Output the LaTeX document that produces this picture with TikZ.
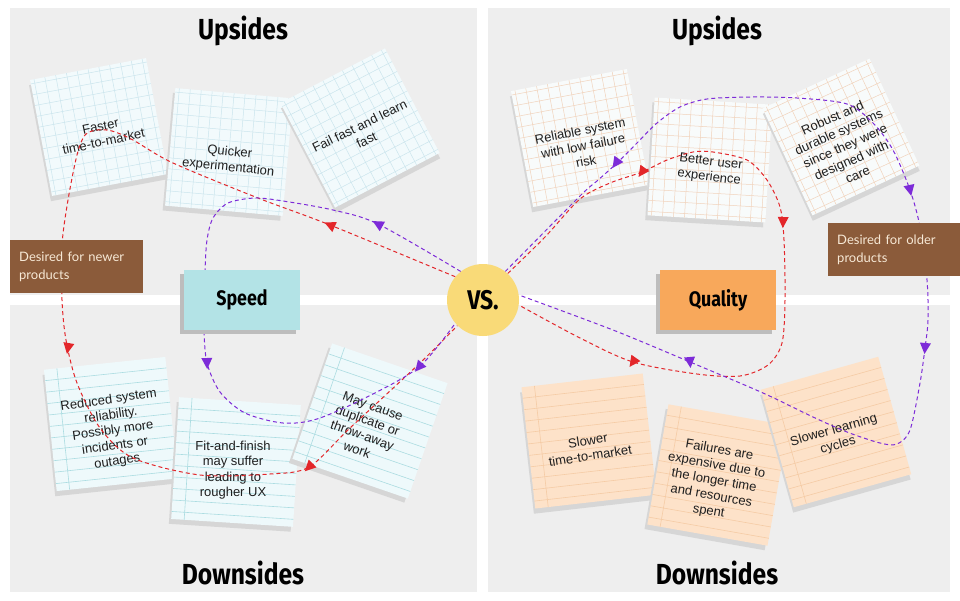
\documentclass[tikz,border=0pt]{standalone}
\usepackage{fontspec}
\setmainfont{Liberation Sans}
\newfontfamily\titlefont[FakeStretch=0.85]{Fira Sans}
\newfontfamily\handfont{Lato}
\usetikzlibrary{calc}

\definecolor{quad}{HTML}{EEEEEE}
\definecolor{nshadow}{HTML}{D6D6D6}
\definecolor{gbluebg}{HTML}{F2FAFC}
\definecolor{gblueln}{HTML}{CBE5ED}
\definecolor{gorgbg}{HTML}{F8FBFB}
\definecolor{gorgln}{HTML}{F1D3BC}
\definecolor{lbluebg}{HTML}{EEF9FB}
\definecolor{lblueln}{HTML}{ABDCE1}
\definecolor{lorgbg}{HTML}{FDE2C9}
\definecolor{lorgln}{HTML}{F5CBA5}
\definecolor{speedc}{HTML}{B3E3E6}
\definecolor{qualc}{HTML}{F8A85B}
\definecolor{vsc}{HTML}{F9DA78}
\definecolor{boxsh}{HTML}{BDBDBD}
\definecolor{brownc}{HTML}{8B5B3A}
\definecolor{browntx}{HTML}{F7E9D6}
\definecolor{redl}{HTML}{E3262A}
\definecolor{purl}{HTML}{7D2BD8}

\pgfdeclarelayer{bg}
\pgfdeclarelayer{notes}
\pgfdeclarelayer{conn}
\pgfdeclarelayer{shad}
\pgfdeclarelayer{front}
\pgfsetlayers{bg,notes,conn,shad,main,front}

\newcommand{\GridNote}[5]{%
  \begin{scope}[shift={(#1,#2)},rotate=#3]
    \fill[nshadow] (-61,-54) rectangle (57,64);
    \fill[#4] (-59,-59) rectangle (59,59);
    \foreach \k in {-55,-44,...,55}{%
      \draw[#5,line width=0.5pt] (\k,-59) -- (\k,59);
      \draw[#5,line width=0.5pt] (-59,\k) -- (59,\k);}
  \end{scope}}

\newcommand{\LineNote}[5]{%
  \begin{scope}[shift={(#1,#2)},rotate=#3]
    \fill[nshadow] (-63,-56) rectangle (59,66);
    \fill[#4] (-61,-61) rectangle (61,61);
    \foreach \k in {0,...,9}{\draw[#5,line width=0.6pt] (-61,{-50+\k*11.5}) -- (61,{-50+\k*11.5});}
    \draw[#5,line width=0.6pt] (-48,-61) -- (-48,61);
  \end{scope}}

\newcommand{\Tip}[4]{%
  \begin{scope}[shift={(#2,#3)},rotate=#4]
    \fill[#1] (6,0) -- (-5,5.5) -- (-5,-5.5) -- cycle;
  \end{scope}}

\tikzset{
  title/.style={font=\titlefont\bfseries\fontsize{29}{30}\selectfont},
  notetext/.style={align=center,font=\fontsize{13}{15.5}\selectfont,inner sep=0pt,text=black!88},
  conn/.style={dash pattern=on 4pt off 3pt,line width=1pt},
  bigbox/.style={minimum width=116,minimum height=60,inner sep=0pt,font=\titlefont\bfseries\fontsize{21}{22}\selectfont},
  brownbox/.style={fill=brownc,text=browntx,minimum height=53,anchor=north west,align=left,inner xsep=9,inner ysep=0,font=\handfont\fontsize{13}{18}\selectfont}
}

\begin{document}
\begin{tikzpicture}[x=1pt,y=-1pt]
\useasboundingbox (0,0) rectangle (960,600);

% main-layer nodes
\node[circle,fill=vsc,minimum size=72,inner sep=0pt,font=\titlefont\bfseries\fontsize{27}{27}\selectfont] (vs) at (483,300) {VS.};
\node[bigbox,fill=speedc] (speed) at (242,300) {Speed};
\node[bigbox,fill=qualc] (quality) at (718,300) {Quality};
\node[brownbox,text width=115] (newer) at (10,240) {Desired for newer\\products};
\node[brownbox,text width=114] (older) at (828,223) {Desired for older\\products};

\begin{pgfonlayer}{shad}
  \fill[boxsh] ($(speed.south west)+(-4,4)$) rectangle ($(speed.north east)+(-4,4)$);
  \fill[boxsh] ($(quality.south west)+(-4,4)$) rectangle ($(quality.north east)+(-4,4)$);
\end{pgfonlayer}

\begin{pgfonlayer}{bg}
  \fill[white] (0,0) rectangle (960,600);
  \fill[quad] (10,8) rectangle (477,295);
  \fill[quad] (488,8) rectangle (950,295);
  \fill[quad] (10,305) rectangle (477,592);
  \fill[quad] (488,305) rectangle (950,592);
  \node[title] (up1) at (243,31) {Upsides};
  \node[title] (up2) at (717,31) {Upsides};
  \node[title] (dn1) at (243,573) {Downsides};
  \node[title] (dn2) at (717,573) {Downsides};
\end{pgfonlayer}

\begin{pgfonlayer}{notes}
  \GridNote{99}{127}{10.7}{gbluebg}{gblueln}
  \GridNote{229}{152}{-5}{gbluebg}{gblueln}
  \GridNote{360}{128}{27.6}{gbluebg}{gblueln}
  \GridNote{580}{138}{10.8}{gorgbg}{gorgln}
  \GridNote{710}{160}{-3.5}{gorgbg}{gorgln}
  \GridNote{841}{137}{25}{gorgbg}{gorgln}
  \LineNote{111}{424}{6}{lbluebg}{lblueln}
  \LineNote{236}{462}{-3.7}{lbluebg}{lblueln}
  \LineNote{370}{421}{-19}{lbluebg}{lblueln}
  \LineNote{589}{441}{6.5}{lorgbg}{lorgln}
  \LineNote{718}{475}{-10}{lorgbg}{lorgln}
  \LineNote{836}{432}{15.7}{lorgbg}{lorgln}
  \node[notetext,rotate=12] (t1) at (102,134) {Faster\\time-to-market};
  \node[notetext,rotate=-6] (t2) at (229,160) {Quicker\\experimentation};
  \node[notetext,rotate=26] (t3) at (363,133) {Fail fast and learn\\fast};
  \node[notetext,rotate=11] (t4) at (583,146) {Reliable system\\with low failure\\risk};
  \node[notetext,rotate=-7] (t5) at (710,170) {Better user\\experience};
  \node[notetext,rotate=24] (t6) at (845,146) {Robust and\\durable systems\\since they were\\designed with\\care};
  \node[notetext,rotate=8] (t7) at (113,431) {Reduced system\\reliability.\\Possibly more\\incidents or\\outages};
  \node[notetext,rotate=0] (t8) at (233,470) {Fit-and-finish\\may suffer\\leading to\\rougher UX};
  \node[notetext,rotate=-20] (t9) at (365,428) {May cause\\duplicate or\\throw-away\\work};
  \node[notetext,rotate=9] (t10) at (589,448) {Slower\\time-to-market};
  \node[notetext,rotate=-10] (t11) at (714,481) {Failures are\\expensive due to\\the longer time\\and resources\\spent};
  \node[notetext,rotate=16] (t12) at (836,438) {Slower learning\\cycles};
\end{pgfonlayer}

\begin{pgfonlayer}{conn}
  % red left loop
  \draw[conn,redl] plot[smooth,tension=0.5] coordinates {(vs.140) (330,225) (258,198) (173,163) (133,140) (112,131) (97,130) (85,135) (77,155) (68,200) (62,245) (62,300) (66,340) (77,383) (100,428) (133,458) (200,475) (270,474) (309,467) (350,428) (420,363) (vs.225)};
  % purple left loop
  \draw[conn,purl] plot[smooth,tension=0.5] coordinates {(vs.128) (378,224) (333,210) (283,201) (255,198) (228,203) (213,218) (207,240) (205,270) (204,300) (204,331) (207,363) (220,392) (245,413) (283,423) (317,419) (367,397) (419,367) (vs.220)};
  % red right loop
  \draw[conn,redl] plot[smooth,tension=0.5] coordinates {(vs.47) (545,237) (580,199) (610,183) (642,172) (667,160) (693,152) (713,152) (747,160) (767,180) (780,207) (784,240) (785,300) (782,343) (768,365) (740,376) (697,374) (633,362) (580,338) (vs.-8)};
  % purple right loop
  \draw[conn,purl] plot[smooth,tension=0.5] coordinates {(vs.52) (580,196) (597,181) (617,163) (637,143) (657,123) (680,107) (707,99) (750,97) (797,98) (847,104) (873,123) (893,150) (910,190) (920,227) (927,280) (928,320) (925,348) (920,383) (910,430) (897,444) (880,443) (847,432) (813,417) (763,393) (690,362) (613,330) (vs.8)};
\end{pgfonlayer}

\begin{pgfonlayer}{front}
  \Tip{redl}{330}{225}{156}
  \Tip{redl}{68}{348}{-100}
  \Tip{redl}{309}{467}{-135}
  \Tip{redl}{642}{172}{-125}
  \Tip{redl}{783}{222}{-92}
  \Tip{redl}{633}{362}{-125}
  \Tip{purl}{378}{224}{151}
  \Tip{purl}{207}{363}{-88}
  \Tip{purl}{419}{367}{-130}
  \Tip{purl}{616}{163}{-125}
  \Tip{purl}{910}{190}{-78}
  \Tip{purl}{925}{348}{-95}
  \Tip{purl}{690}{362}{-85}
\end{pgfonlayer}
\end{tikzpicture}
\end{document}
